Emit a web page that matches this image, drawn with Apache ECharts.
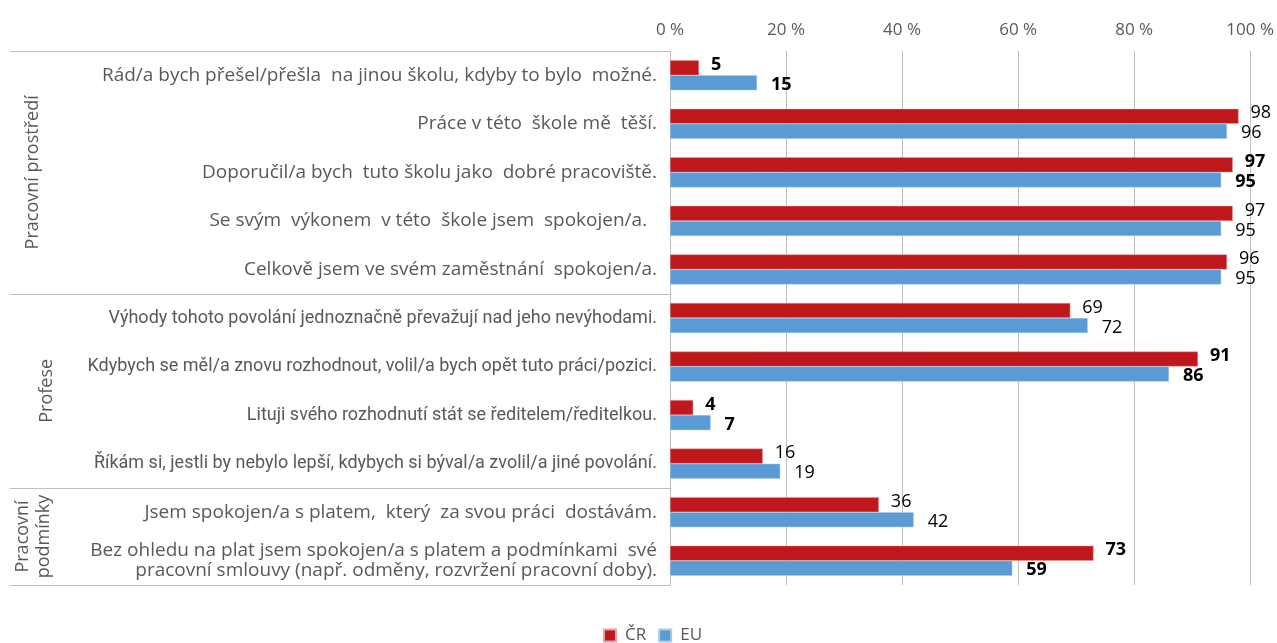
<!DOCTYPE html>
<html>
<head>
<meta charset="utf-8">
<script src="https://cdn.jsdelivr.net/npm/echarts@6/dist/echarts.min.js"></script>
<style>
  html, body { margin: 0; padding: 0; background: #fff; }
  #main { width: 1277px; height: 643px; }
</style>
</head>
<body>
<div id="main"></div>
<script>
  // statements, top to bottom
  var categories = [
    'Rád/a bych přešel/přešla  na jinou školu, kdyby to bylo  možné.',
    'Práce v této  škole mě  těší.',
    'Doporučil/a bych  tuto školu jako  dobré pracoviště.',
    'Se svým  výkonem  v této  škole jsem  spokojen/a.  ',
    'Celkově jsem ve svém zaměstnání  spokojen/a.',
    'Výhody tohoto povolání jednoznačně převažují nad jeho nevýhodami.',
    'Kdybych se měl/a znovu rozhodnout, volil/a bych opět tuto práci/pozici.',
    'Lituji svého rozhodnutí stát se ředitelem/ředitelkou.',
    'Říkám si, jestli by nebylo lepší, kdybych si býval/a zvolil/a jiné povolání.',
    'Jsem spokojen/a s platem,  který  za svou práci  dostávám.',
    'Bez ohledu na plat jsem spokojen/a s platem a podmínkami  své\npracovní smlouvy (např. odměny, rozvržení pracovní doby).'
  ];
  var groupOf = [0, 0, 0, 0, 0, 1, 1, 1, 1, 2, 2];
  var groups = ['Pracovní prostředí', 'Profese', 'Pracovní\npodmínky'];
  var valuesCR = [5, 98, 97, 97, 96, 69, 91, 4, 16, 36, 73];
  var valuesEU = [15, 96, 95, 95, 95, 72, 86, 7, 19, 42, 59];
  var boldRows = [true, false, true, false, false, false, true, true, false, false, true];
  var xTicks = [0, 20, 40, 60, 80, 100];

  var chart = echarts.init(document.getElementById('main'));

  function seriesData(vals) {
    return vals.map(function (v, i) {
      return { value: v, label: { fontWeight: boldRows[i] ? 'bold' : 'normal' } };
    });
  }

  var labelRich = {
    a: { fontFamily: 'Open Sans', fontSize: 19, color: '#595959', lineHeight: 21 },
    b: { fontFamily: 'Roboto', fontSize: 18, color: '#595959', lineHeight: 21 },
    c: { fontFamily: 'Open Sans', fontSize: 19, color: '#595959', lineHeight: 20 }
  };
  var styleKeys = ['a', 'b', 'c'];

  var option = {
    animation: false,
    grid: { left: 670, right: 25, top: 51, bottom: 58 },
    legend: {
      top: 622,
      left: 598,
      icon: 'rect',
      itemWidth: 12,
      itemHeight: 12,
      itemGap: 12,
      textStyle: { color: '#595959', fontSize: 17, fontFamily: 'Open Sans', padding: [0, 0, 0, 4] },
      data: ['ČR', 'EU']
    },
    xAxis: {
      type: 'value',
      position: 'top',
      min: xTicks[0],
      max: xTicks[xTicks.length - 1],
      interval: 20,
      axisLine: { show: false },
      axisTick: { show: false },
      axisLabel: {
        formatter: '{value} %',
        color: '#595959',
        fontSize: 17,
        fontFamily: 'Open Sans',
        margin: 12
      },
      splitLine: { lineStyle: { color: '#BFBFBF', width: 1 } }
    },
    yAxis: {
      type: 'category',
      inverse: true,
      data: categories,
      axisLine: { show: true, lineStyle: { color: '#BFBFBF' } },
      axisTick: { show: false },
      axisLabel: {
        margin: 13,
        align: 'right',
        formatter: function (v, i) {
          var k = styleKeys[groupOf[i]];
          return v.split('\n').map(function (s) { return '{' + k + '|' + s + '}'; }).join('\n');
        },
        rich: labelRich
      }
    },
    series: [
      {
        name: 'ČR',
        type: 'bar',
        data: seriesData(valuesCR),
        barGap: '0%',
        barCategoryGap: '38%',
        itemStyle: { color: '#C0171C', borderColor: '#E8A0A0', borderWidth: 0.5 },
        label: {
          show: true,
          position: 'right',
          distance: 12,
          offset: [0, -3],
          color: '#000',
          fontSize: 18,
          fontFamily: 'Open Sans'
        }
      },
      {
        name: 'EU',
        type: 'bar',
        data: seriesData(valuesEU),
        itemStyle: { color: '#5B9BD5', borderColor: '#A9CBEA', borderWidth: 0.5 },
        label: {
          show: true,
          position: 'right',
          distance: 14,
          offset: [0, 2],
          color: '#000',
          fontSize: 18,
          fontFamily: 'Open Sans'
        }
      }
    ]
  };

  chart.setOption(option);

  // group frame on the left, positioned from the category axis
  function bandEdge(idx) {
    var a = chart.convertToPixel({ yAxisIndex: 0 }, categories[idx]);
    var b = chart.convertToPixel({ yAxisIndex: 0 }, categories[idx + 1]);
    return (a + b) / 2;
  }
  var first = chart.convertToPixel({ yAxisIndex: 0 }, categories[0]);
  var second = chart.convertToPixel({ yAxisIndex: 0 }, categories[1]);
  var half = (second - first) / 2;
  var lastIdx = categories.length - 1;
  var edges = [first - half];
  for (var i = 0; i < lastIdx; i++) {
    if (groupOf[i] !== groupOf[i + 1]) edges.push(bandEdge(i));
  }
  edges.push(chart.convertToPixel({ yAxisIndex: 0 }, categories[lastIdx]) + half);

  var axisX = chart.convertToPixel({ xAxisIndex: 0 }, 0);
  var graphics = [];
  edges.forEach(function (y) {
    graphics.push({
      type: 'line',
      shape: { x1: 10, y1: Math.round(y) + 0.5, x2: axisX, y2: Math.round(y) + 0.5 },
      style: { stroke: '#BFBFBF', lineWidth: 1 },
      silent: true
    });
  });
  var groupX = [33, 47, 33];
  groups.forEach(function (g, gi) {
    var mid = (edges[gi] + edges[gi + 1]) / 2;
    graphics.push({
      type: 'text',
      x: groupX[gi],
      y: mid,
      rotation: Math.PI / 2,
      style: {
        text: g,
        fill: '#595959',
        font: '18px "Open Sans"',
        align: 'center',
        verticalAlign: 'middle',
        lineHeight: 21
      },
      silent: true
    });
  });
  chart.setOption({ graphic: graphics });
</script>
</body>
</html>
